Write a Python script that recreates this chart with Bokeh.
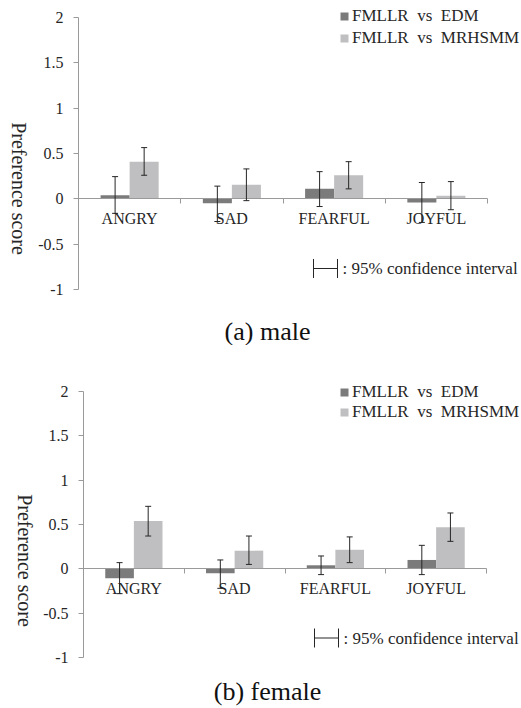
import math
from bokeh.plotting import figure
from bokeh.models import (ColumnDataSource, Range1d, LinearAxis, FixedTicker, Whisker, TeeHead,
                          Label, Legend, LegendItem, PrintfTickFormatter)
from bokeh.layouts import column
from bokeh.embed import file_html
from bokeh.resources import INLINE

categories = ["ANGRY", "SAD", "FEARFUL", "JOYFUL"]
series_names = ["FMLLR  vs  EDM", "FMLLR  vs  MRHSMM"]
y_ticks = [-1, -0.5, 0, 0.5, 1, 1.5, 2]
y_min, y_max = -1, 2

# (a) male
male_edm = [0.04, -0.05, 0.11, -0.04]
male_edm_upper = [0.245, 0.14, 0.30, 0.18]
male_edm_lower = [-0.16, -0.25, -0.085, -0.26]
male_mrh = [0.41, 0.155, 0.26, 0.035]
male_mrh_upper = [0.565, 0.33, 0.41, 0.19]
male_mrh_lower = [0.26, -0.02, 0.11, -0.12]

# (b) female
female_edm = [-0.105, -0.05, 0.04, 0.10]
female_edm_upper = [0.07, 0.10, 0.145, 0.265]
female_edm_lower = [-0.28, -0.22, -0.065, -0.065]
female_mrh = [0.54, 0.205, 0.215, 0.47]
female_mrh_upper = [0.705, 0.37, 0.36, 0.63]
female_mrh_lower = [0.37, 0.05, 0.07, 0.31]

SERIF = "Liberation Serif"
DARK = "#7b7b7b"
LIGHT = "#bfbfc1"
AXIS = "#9a9a9a"
TXT = "#262626"
BW = 0.284


def make_chart(edm, edm_up, edm_lo, mrh, mrh_up, mrh_lo, caption, g):
    W, H = g["W"], g["H"]
    # inner plotting box (pixels from the figure's top-left)
    L, R, T, B = g["L"], g["R"], g["T"], g["B"]
    n = len(categories)
    x_lo, x_hi = 0.5, n + 0.5
    xs = (R - L) / (x_hi - x_lo)
    ys = (B - T) / (y_max - y_min)
    x_range = Range1d(x_lo - L / xs, x_hi + (W - R) / xs)
    y_range = Range1d(y_min - (H - B) / ys, y_max + T / ys)

    p = figure(output_backend="svg", toolbar_location=None,
               frame_width=W, frame_height=H,
               min_border_left=0, min_border_right=0,
               min_border_top=0, min_border_bottom=0,
               x_range=x_range, y_range=y_range, tools="")
    p.outline_line_color = None
    p.grid.visible = False
    p.background_fill_color = "white"
    p.border_fill_color = "white"

    idx = list(range(1, n + 1))
    x_edm = [i - BW / 2 for i in idx]
    x_mrh = [i + BW / 2 for i in idx]
    s_edm = ColumnDataSource(dict(x=x_edm, top=edm, upper=edm_up, lower=edm_lo))
    s_mrh = ColumnDataSource(dict(x=x_mrh, top=mrh, upper=mrh_up, lower=mrh_lo))
    r1 = p.vbar(x="x", top="top", bottom=0, width=BW, source=s_edm,
                fill_color=DARK, line_color=None)
    r2 = p.vbar(x="x", top="top", bottom=0, width=BW, source=s_mrh,
                fill_color=LIGHT, line_color=None)

    for s in (s_edm, s_mrh):
        p.add_layout(Whisker(base="x", upper="upper", lower="lower", source=s,
                             dimension="height", line_color=TXT, line_width=1, level="overlay",
                             upper_head=TeeHead(size=6, line_color=TXT, line_width=1),
                             lower_head=TeeHead(size=6, line_color=TXT, line_width=1)))

    # y axis, fixed at the left category boundary
    ya = p.yaxis[0]
    ya.fixed_location = x_lo
    ya.bounds = (y_min, y_max)
    ya.ticker = FixedTicker(ticks=y_ticks)
    ya.formatter = PrintfTickFormatter(format="%g")
    ya.axis_line_color = AXIS
    ya.major_tick_line_color = AXIS
    ya.major_tick_out = 5
    ya.major_tick_in = 0
    ya.minor_tick_line_color = None
    ya.major_label_standoff = 10
    ya.major_label_text_font = SERIF
    ya.major_label_text_font_size = "16px"
    ya.major_label_text_color = TXT

    # x axis: boundary ticks, fixed at zero
    xa = p.xaxis[0]
    xa.fixed_location = 0
    xa.bounds = (x_lo, x_hi)
    xa.ticker = FixedTicker(ticks=[i + 0.5 for i in range(0, n + 1)])
    xa.axis_line_color = AXIS
    xa.major_tick_line_color = AXIS
    xa.major_tick_out = 5
    xa.major_tick_in = 0
    xa.minor_tick_line_color = None
    xa.major_label_standoff = 0
    xa.major_label_text_font_size = "0px"
    xa.major_label_text_alpha = 0

    # category labels
    la = LinearAxis(ticker=FixedTicker(ticks=idx), fixed_location=0,
                    major_label_overrides={i: c for i, c in zip(idx, categories)})
    la.axis_line_color = None
    la.major_tick_line_color = None
    la.minor_tick_line_color = None
    la.major_tick_out = 0
    la.major_tick_in = 0
    la.major_label_standoff = 11
    la.major_label_text_font = SERIF
    la.major_label_text_font_size = "16px"
    la.major_label_text_color = TXT
    p.add_layout(la, "below")

    # y axis title (reads top to bottom)
    p.add_layout(Label(x=g["ylx"], y=H - g["yly"], x_units="screen", y_units="screen",
                       text="Preference score", angle=-math.pi / 2,
                       text_align="center", text_baseline="middle",
                       text_font=SERIF, text_font_size="20px", text_color=TXT))

    # caption
    p.add_layout(Label(x=g["cx"], y=H - g["cy"], x_units="screen", y_units="screen",
                       text=caption, text_align="center", text_baseline="middle",
                       text_font=SERIF, text_font_size="26px", text_color="#111111"))

    # confidence interval key
    key = ColumnDataSource(dict(base=[H - g["ky"]], lower=[g["kx0"]], upper=[g["kx1"]]))
    p.add_layout(Whisker(base="base", lower="lower", upper="upper", source=key,
                         base_units="screen", lower_units="screen", upper_units="screen",
                         dimension="width", line_color=TXT, line_width=1, level="overlay",
                         upper_head=TeeHead(size=19, line_color=TXT, line_width=1),
                         lower_head=TeeHead(size=19, line_color=TXT, line_width=1)))
    p.add_layout(Label(x=g["kx1"] + 5, y=H - g["ky"], x_units="screen", y_units="screen",
                       text=": 95% confidence interval", text_align="left",
                       text_baseline="middle", text_font=SERIF, text_font_size="17px",
                       text_color=TXT))

    legend = Legend(items=[LegendItem(label=series_names[0], renderers=[r1]),
                           LegendItem(label=series_names[1], renderers=[r2])],
                    location=(g["lgx"], H - g["lgb"]), orientation="vertical",
                    padding=0, margin=0, spacing=g["lsp"], glyph_width=10, glyph_height=10,
                    label_height=20, label_standoff=3, border_line_color=None,
                    background_fill_alpha=0, label_text_font=SERIF,
                    label_text_font_size="17px", label_text_color=TXT)
    p.add_layout(legend, "center")
    return p


# geometry in pixels from each figure's top-left corner
geo1 = dict(W=520, H=345, L=78, R=487, T=17, B=289,
            ylx=18, yly=188, cx=267, cy=331,
            kx0=313, kx1=337, ky=268, lgx=339, lgb=47.5, lsp=2)
geo2 = dict(W=520, H=363, L=83, R=486, T=46, B=312,
            ylx=24, yly=215, cx=267, cy=346,
            kx0=314, kx1=338, ky=292.5, lgx=339, lgb=76.5, lsp=0)

p1 = make_chart(male_edm, male_edm_upper, male_edm_lower,
                male_mrh, male_mrh_upper, male_mrh_lower, "(a) male", geo1)
p2 = make_chart(female_edm, female_edm_upper, female_edm_lower,
                female_mrh, female_mrh_upper, female_mrh_lower, "(b) female", geo2)

layout = column(p1, p2, spacing=0)
open("out.html", "w").write(file_html(layout, INLINE))
